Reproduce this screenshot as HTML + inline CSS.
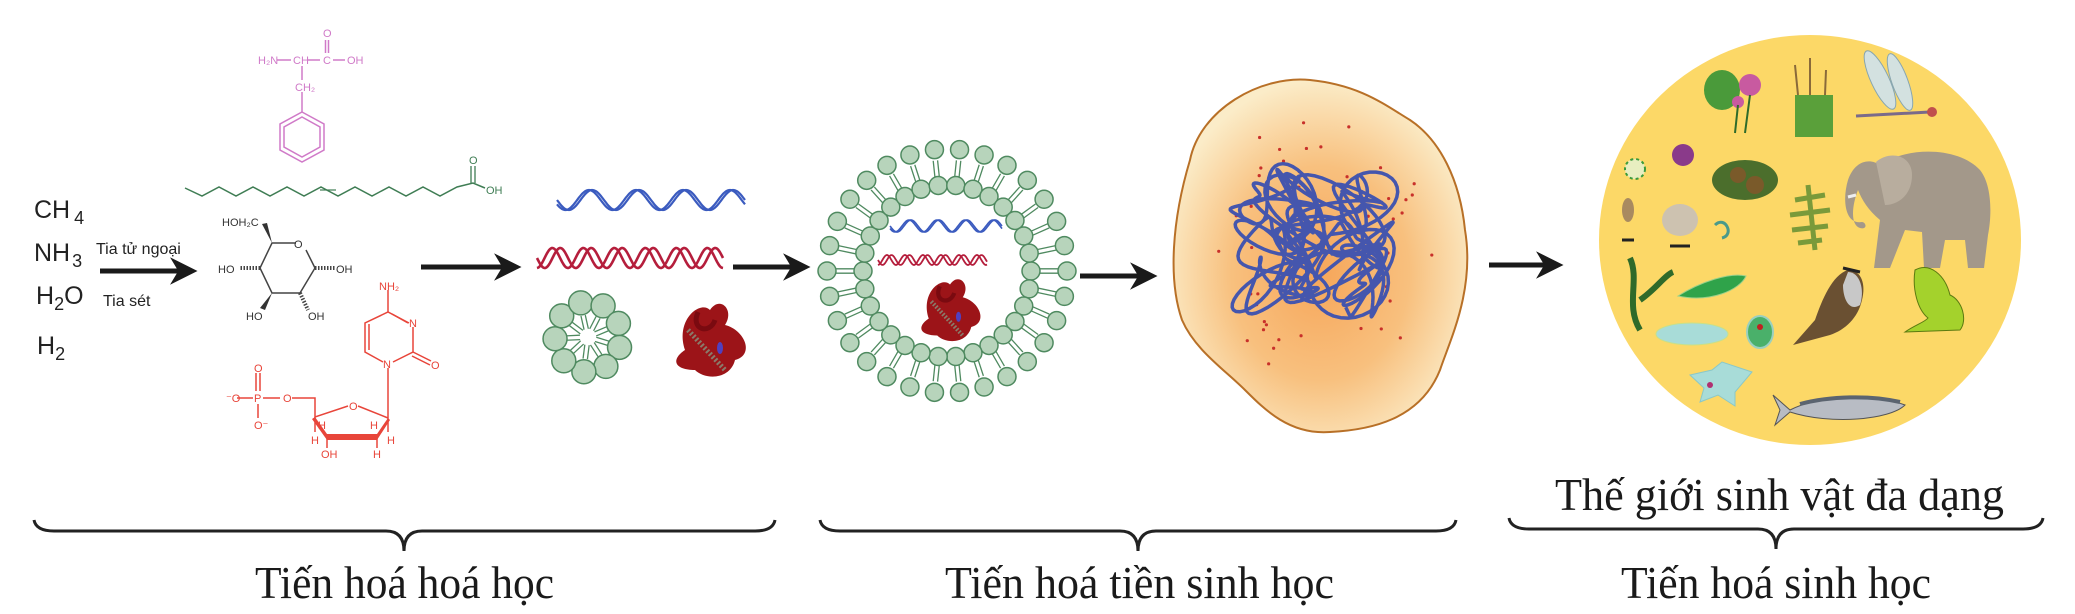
<!DOCTYPE html>
<html><head><meta charset="utf-8">
<style>
html,body{margin:0;padding:0;background:#fff;}
svg{display:block;}
</style></head>
<body>
<svg id="s" width="2075" height="614" viewBox="0 0 2075 614" xmlns="http://www.w3.org/2000/svg" font-family="Liberation Sans, sans-serif">
<defs>
<radialGradient id="cg" cx="0.5" cy="0.55" r="0.55">
<stop offset="0" stop-color="#f6a65a"/>
<stop offset="0.55" stop-color="#f8c07e"/>
<stop offset="1" stop-color="#fbecc8"/>
</radialGradient>
<marker id="ah" viewBox="0 0 10 10" refX="8" refY="5" markerWidth="5.5" markerHeight="5.5" orient="auto"><path d="M0,0 L10,5 L0,10 L3,5 Z" fill="#1a1a1a"/></marker>
</defs>

<!-- inorganic -->
<g font-size="25" fill="#222">
<text x="34" y="218">CH<tspan font-size="18" dx="4" dy="6">4</tspan></text>
<text x="34" y="261">NH<tspan font-size="18" dx="2" dy="6">3</tspan></text>
<text x="36" y="304">H<tspan font-size="18" dy="6">2</tspan><tspan dy="-6">O</tspan></text>
<text x="37" y="354">H<tspan font-size="18" dy="6">2</tspan></text>
</g>
<text x="96" y="254" font-size="16" fill="#222">Tia tử ngoại</text>
<text x="103" y="306" font-size="16" fill="#222">Tia sét</text>
<line x1="100" y1="271" x2="192" y2="271" stroke="#1a1a1a" stroke-width="5" marker-end="url(#ah)"/>

<!-- amino acid -->
<g stroke="#d07ac8" stroke-width="1.5" fill="none">
<line x1="277" y1="60" x2="291" y2="60"/><line x1="308" y1="60" x2="320" y2="60"/><line x1="333" y1="60" x2="345" y2="60"/>
<line x1="325.5" y1="40" x2="325.5" y2="53"/><line x1="328.5" y1="40" x2="328.5" y2="53"/>
<line x1="302" y1="66" x2="302" y2="80"/><line x1="302" y1="92" x2="302" y2="112"/>
<polygon points="302,112 324,124 324,150 302,162 280,150 280,124"/>
<polygon points="302,117 320,127 320,147 302,157 284,147 284,127"/>
</g>
<g font-size="11" fill="#d07ac8">
<text x="258" y="64">H₂N</text><text x="293" y="64">CH</text><text x="323" y="64">C</text><text x="347" y="64">OH</text>
<text x="323" y="37">O</text><text x="295" y="91">CH₂</text>
</g>

<!-- fatty acid -->
<polyline fill="none" stroke="#3f7d54" stroke-width="1.5" points="185,188 202,196 219,187 236,196 253,187 270,196 287,187 304,196 321,187 338,196 355,187 372,196 389,187 406,196 423,187 440,196 457,187 473,183 485,188"/>
<line x1="320" y1="190" x2="336" y2="190" stroke="#3f7d54" stroke-width="1.2"/>
<line x1="471" y1="183" x2="471" y2="166" stroke="#3f7d54" stroke-width="1.3"/><line x1="475" y1="183" x2="475" y2="166" stroke="#3f7d54" stroke-width="1.3"/>
<text x="469" y="164" font-size="11" fill="#3f7d54">O</text><text x="486" y="194" font-size="11" fill="#3f7d54">OH</text>

<!-- glucose -->
<g stroke="#444" stroke-width="1.5" fill="none">
<polyline points="296,243 272,243 260,268 272,293 300,293 315,268 306,250"/>
<line x1="260" y1="268" x2="240" y2="268" stroke-dasharray="1.5,1.5" stroke-width="4"/>
<line x1="315" y1="268" x2="336" y2="268" stroke-dasharray="1.5,1.5" stroke-width="4"/>
<line x1="300" y1="293" x2="308" y2="310" stroke-dasharray="1.5,1.5" stroke-width="4"/>
</g>
<polygon points="272,243 262,224 267,223" fill="#333"/>
<polygon points="272,293 260,308 265,310" fill="#333"/>
<g font-size="11" fill="#333">
<text x="222" y="226">HOH₂C</text><text x="294" y="248">O</text><text x="218" y="273">HO</text><text x="336" y="273">OH</text><text x="246" y="320">HO</text><text x="308" y="320">OH</text>
</g>

<!-- nucleotide -->
<g stroke="#e8453a" stroke-width="1.5" fill="none">
<line x1="388" y1="290" x2="388" y2="312"/>
<polyline points="409,323 388,312 365,323 365,352 383,362"/>
<line x1="392" y1="314" x2="408" y2="323"/>
<line x1="369" y1="324" x2="369" y2="350"/>
<polyline points="393,362 413,352 413,327"/>
<line x1="413" y1="352" x2="431" y2="361"/><line x1="412" y1="356" x2="430" y2="365"/>
<line x1="388" y1="368" x2="388" y2="418"/>
<polyline points="388,418 358,406"/><polyline points="348,406 315,417 315,398 292,398"/>
<line x1="237" y1="398" x2="253" y2="398"/><line x1="263" y1="398" x2="280" y2="398"/>
<line x1="256" y1="373" x2="256" y2="391"/><line x1="260" y1="373" x2="260" y2="391"/>
<line x1="258" y1="404" x2="258" y2="418"/>
<line x1="315" y1="417" x2="315" y2="432"/><line x1="388" y1="418" x2="388" y2="432"/>
<line x1="327" y1="437" x2="327" y2="448"/><line x1="377" y1="437" x2="377" y2="448"/>
</g>
<polygon points="315,417 327,434 327,440 312,419" fill="#e8453a"/>
<polygon points="327,434 377,434 377,440 327,440" fill="#e8453a"/>
<polygon points="377,434 388,418 390,420 377,440" fill="#e8453a"/>
<g font-size="11" fill="#e8453a">
<text x="379" y="290">NH₂</text><text x="409" y="327">N</text><text x="383" y="368">N</text><text x="431" y="369">O</text>
<text x="349" y="410">O</text><text x="254" y="402">P</text><text x="226" y="402">⁻O</text><text x="254" y="372">O</text><text x="254" y="429">O⁻</text><text x="283" y="402">O</text>
<text x="318" y="429">H</text><text x="370" y="429">H</text><text x="311" y="444">H</text><text x="387" y="444">H</text><text x="321" y="458">OH</text><text x="373" y="458">H</text>
</g>

<!-- arrows -->
<line x1="421" y1="267" x2="516" y2="267" stroke="#1a1a1a" stroke-width="5" marker-end="url(#ah)"/>
<line x1="733" y1="267" x2="805" y2="267" stroke="#1a1a1a" stroke-width="5" marker-end="url(#ah)"/>
<line x1="1080" y1="276" x2="1152" y2="276" stroke="#1a1a1a" stroke-width="5" marker-end="url(#ah)"/>
<line x1="1489" y1="265" x2="1558" y2="265" stroke="#1a1a1a" stroke-width="5" marker-end="url(#ah)"/>

<g id="dyn"></g>

<!-- cell -->
<path d="M1190,160 C1200,110 1260,75 1310,80 C1360,85 1385,105 1410,120 C1440,140 1460,180 1465,230 C1475,290 1450,340 1440,370 C1420,420 1370,430 1330,432 C1290,435 1265,410 1245,390 C1225,370 1195,350 1182,320 C1168,280 1172,220 1190,160 Z" fill="url(#cg)" stroke="#b87027" stroke-width="2"/>
<g id="cell"></g>

<!-- diversity circle -->
<ellipse cx="1810" cy="240" rx="211" ry="205" fill="#fcd867"/>
<!-- elephant -->
<g fill="#a3988a">
<path d="M1880,165 C1910,145 1960,148 1980,170 C1992,185 1992,215 1988,235 L1984,268 L1968,268 L1965,240 L1945,240 L1940,268 L1924,268 L1922,232 L1905,230 L1890,268 L1874,268 L1880,220 C1868,210 1862,200 1858,190 C1852,205 1850,225 1860,228 C1868,230 1866,222 1862,222 C1845,225 1842,200 1848,180 C1855,160 1870,158 1880,165 Z"/>
<path d="M1876,162 C1890,150 1912,155 1912,175 C1912,195 1898,205 1885,205 Z" fill="#b8ad9e"/>
</g>
<path d="M1848,197 L1856,195" stroke="#eee" stroke-width="3"/>
<!-- fish -->
<path d="M1790,410 C1820,395 1870,392 1905,405 C1890,420 1830,425 1790,412 L1775,425 L1780,410 L1773,395 Z" fill="#b8bcc4" stroke="#555" stroke-width="1"/>
<path d="M1800,404 C1830,396 1870,395 1900,402" stroke="#5b6470" stroke-width="4" fill="none"/>
<!-- frog -->
<path d="M1915,270 C1930,262 1945,275 1950,295 C1962,300 1968,320 1960,330 L1905,332 C1915,325 1925,322 1928,318 C1918,310 1912,290 1915,270 Z" fill="#a4d22c" stroke="#5b7a10" stroke-width="1"/>
<!-- bird -->
<path d="M1848,270 C1862,270 1866,285 1862,300 C1858,318 1845,330 1830,335 L1793,345 L1815,320 C1822,300 1832,275 1848,270 Z" fill="#6a5032"/>
<path d="M1848,272 C1860,272 1865,290 1860,305 C1850,312 1843,300 1843,285 Z" fill="#c8c8c8"/>
<path d="M1843,268 L1860,272" stroke="#222" stroke-width="3"/>
<!-- dragonfly -->
<g fill="#cfe2ee" stroke="#7aa0b8" stroke-width="1" opacity="0.9">
<ellipse cx="1880" cy="80" rx="9" ry="32" transform="rotate(-25 1880 80)"/>
<ellipse cx="1900" cy="82" rx="8" ry="30" transform="rotate(-20 1900 82)"/>
</g>
<line x1="1856" y1="116" x2="1930" y2="112" stroke="#7a6a8a" stroke-width="3"/>
<circle cx="1932" cy="112" r="5" fill="#c0504d"/>
<!-- lotus -->
<ellipse cx="1722" cy="90" rx="18" ry="20" fill="#4a9a3a"/>
<circle cx="1750" cy="85" r="11" fill="#c85aa0"/>
<circle cx="1738" cy="102" r="6" fill="#c85aa0"/>
<path d="M1735,133 L1738,105 M1745,133 L1750,95" stroke="#2e6b2a" stroke-width="2"/>
<!-- moss -->
<rect x="1795" y="95" width="38" height="42" fill="#5aa03a"/>
<path d="M1798,95 L1795,65 M1810,95 L1810,58 M1825,95 L1826,70" stroke="#8a6a3a" stroke-width="2"/>
<!-- pine -->
<ellipse cx="1745" cy="180" rx="33" ry="20" fill="#4b6e2c"/>
<circle cx="1738" cy="175" r="8" fill="#7a5a2a"/><circle cx="1755" cy="185" r="9" fill="#7a5a2a"/>
<!-- fern -->
<path d="M1808,185 L1815,250 M1795,200 L1825,195 M1790,215 L1830,210 M1792,230 L1828,226 M1798,243 L1822,240" stroke="#7a9a3a" stroke-width="5"/>
<!-- small things -->
<circle cx="1683" cy="155" r="11" fill="#8a3a8a"/>
<circle cx="1635" cy="169" r="10" fill="#e8eec0" stroke="#3a9a3a" stroke-width="2" stroke-dasharray="3,3"/>
<ellipse cx="1628" cy="210" rx="6" ry="12" fill="#a88a60"/><path d="M1622,240 L1634,240" stroke="#222" stroke-width="3"/>
<ellipse cx="1680" cy="220" rx="18" ry="16" fill="#cdc2b0"/><path d="M1670,246 L1690,246" stroke="#222" stroke-width="3"/>
<path d="M1715,225 C1725,215 1735,235 1722,238" stroke="#4a9a8a" stroke-width="3" fill="none"/>
<path d="M1630,258 C1640,280 1625,305 1640,330 M1640,300 C1655,290 1665,275 1673,272" stroke="#2f6a2a" stroke-width="6" fill="none"/>
<path d="M1678,296 C1700,282 1730,272 1746,276 C1740,290 1710,303 1678,296 Z" fill="#2fa34a" stroke="#9ad08a" stroke-width="1"/>
<ellipse cx="1692" cy="334" rx="36" ry="11" fill="#a8dcd8" stroke="#c8e08a" stroke-width="1"/>
<ellipse cx="1760" cy="332" rx="13" ry="16" fill="#4ab06a" stroke="#9ad0c0" stroke-width="2"/>
<circle cx="1760" cy="327" r="3" fill="#c02020"/>
<path d="M1690,375 L1712,370 L1722,362 L1752,372 L1735,392 L1735,406 L1718,395 L1700,402 L1704,388 Z" fill="#a8dcd8" stroke="#8ac8c8" stroke-width="1"/>
<circle cx="1710" cy="385" r="3" fill="#b03070"/>

<!-- brackets -->
<g fill="none" stroke="#222" stroke-width="3">
<path d="M34,520 Q36,531 54,531 L386,531 Q404,531 404,551 Q404,531 422,531 L755,531 Q773,531 775,520"/>
<path d="M820,520 Q822,531 840,531 L1120,531 Q1138,531 1138,551 Q1138,531 1156,531 L1436,531 Q1454,531 1456,520"/>
<path d="M1509,518 Q1511,529 1529,529 L1758,529 Q1776,529 1776,549 Q1776,529 1794,529 L2023,529 Q2041,529 2043,518"/>
</g>
<g font-family="Liberation Serif, serif" font-size="46" fill="#1a1a1a">
<text x="255" y="598" textLength="299" lengthAdjust="spacingAndGlyphs">Tiến hoá hoá học</text>
<text x="945" y="598" textLength="389" lengthAdjust="spacingAndGlyphs">Tiến hoá tiền sinh học</text>
<text x="1621" y="598" textLength="310" lengthAdjust="spacingAndGlyphs">Tiến hoá sinh học</text>
<text x="1555" y="510" textLength="449" lengthAdjust="spacingAndGlyphs">Thế giới sinh vật đa dạng</text>
</g>
</svg>
<script>
(function(){
var NS="http://www.w3.org/2000/svg",d=document.getElementById("dyn"),cell=document.getElementById("cell");
function el(p,t,a){var e=document.createElementNS(NS,t);for(var k in a)e.setAttribute(k,a[k]);p.appendChild(e);return e;}
var seed=7;function rnd(){seed=(seed*16807)%2147483647;return seed/2147483647;}
function helix(x0,x1,y,amp,per,col,w,off){
 for(var s=0;s<2;s++){var p="";for(var x=x0;x<=x1;x+=1){var yy=y+amp*Math.sin((x-x0)/per*2*Math.PI+s*off);p+=(x==x0?"M":"L")+x+","+yy.toFixed(1);}
 el(d,"path",{d:p,fill:"none",stroke:col,"stroke-width":w});}
}
helix(557,745,200,10,47,"#3b5bbf",2.2,0.45);
helix(537,723,258,10,31,"#b51e3c",2.6,1.6);
helix(890,1002,226,6,28,"#3b5bbf",1.6,0.45);
helix(878,987,260,5,18,"#b51e3c",1.8,1.6);
var bf="#b7d4bb",bs="#4f8a60";
function ball(cx,cy,r){el(d,"circle",{cx:cx,cy:cy,r:r,fill:bf,stroke:bs,"stroke-width":1.5});}
function tail(cx,cy,a,r1,r2){var dx=Math.cos(a),dy=Math.sin(a),nx=-dy*2.2,ny=dx*2.2;
 for(var s=-1;s<=1;s+=2)el(d,"line",{x1:cx+dx*r1+nx*s,y1:cy+dy*r1+ny*s,x2:cx+dx*r2+nx*s,y2:cy+dy*r2+ny*s,stroke:bs,"stroke-width":1.3});}
var vx=947,vy=271,n=30;
for(var i=0;i<n;i++){var a=i/n*2*Math.PI;tail(vx,vy,a,111,93);}
for(var i=0;i<n;i++){var a=i/n*2*Math.PI;ball(vx+Math.cos(a)*120,vy+Math.sin(a)*122,9);ball(vx+Math.cos(a)*84,vy+Math.sin(a)*86,9);}
var mx=588,my=337;for(var i=0;i<9;i++){var a=i/9*2*Math.PI+0.3;tail(mx,my,a,22,8);}
for(var i=0;i<9;i++){var a=i/9*2*Math.PI+0.3;ball(mx+Math.cos(a)*33,my+Math.sin(a)*35,12);}
function prot(cx,cy,s){var g=el(d,"g",{transform:"translate("+cx+","+cy+") scale("+s+")"});
 el(g,"path",{d:"M-25,10 C-35,-20 -10,-40 0,-30 C10,-45 25,-30 15,-15 C35,-10 45,15 25,20 C20,40 -5,40 -15,30 C-35,30 -40,20 -25,10 Z",fill:"#9c1418"});
 el(g,"path",{d:"M-12,-28 C-20,-10 0,-5 5,-20",fill:"none",stroke:"#7a0a10","stroke-width":5});
 el(g,"line",{x1:-22,y1:-10,x2:15,y2:30,stroke:"#8a7a6a","stroke-width":5,"stroke-dasharray":"2,2"});
 el(g,"ellipse",{cx:10,cy:8,rx:3,ry:6,fill:"#5040c0"});}
prot(710,340,1.0);prot(950,310,0.85);
for(var i=0;i<45;i++){var a=rnd()*2*Math.PI,r=0.45+rnd()*0.5;el(cell,"circle",{cx:1318+Math.cos(a)*125*r,cy:255+Math.sin(a)*150*r,r:1.6,fill:"#c8302a"});}
// loopy tangle
var p="";for(var t=0;t<=60;t+=0.05){
 var x=1318+52*Math.sin(t*0.73+0.4)+22*Math.sin(t*2.9)+14*Math.cos(t*5.3+1);
 var y=242+45*Math.sin(t*0.61+1.3)+22*Math.cos(t*3.1)+14*Math.sin(t*4.7);
 p+=(t==0?"M":"L")+x.toFixed(1)+","+y.toFixed(1);}
el(cell,"path",{d:p,fill:"none",stroke:"#4556ad","stroke-width":3.5,"stroke-linejoin":"round"});
})();
</script>
</body></html>
